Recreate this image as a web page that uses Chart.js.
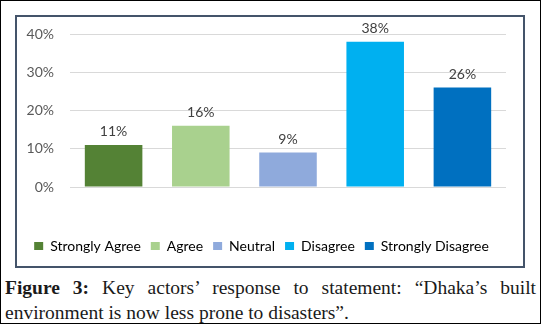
<!DOCTYPE html>
<html>
<head>
<meta charset="utf-8">
<script src="https://cdn.jsdelivr.net/npm/chart.js@4.4.1/dist/chart.umd.min.js"></script>
<style>
  html, body { margin: 0; padding: 0; background: #fff; }
  .page { position: relative; width: 541px; height: 324px; box-sizing: border-box; border: 1px solid #000; overflow: hidden; }
  .chartBox { position: absolute; left: 14px; top: 14px; width: 506px; height: 249px; border: 2px solid #44546a; background: #fff; }
  .caption { position: absolute; left: 4px; top: 274px; width: 531px; font-family: "Liberation Serif", serif; font-size: 19.5px; line-height: 25px; color: #1a1a1a; }
  .caption .l1 { text-align: justify; text-align-last: justify; }
</style>
</head>
<body>
<div class="page">
  <div class="chartBox"><canvas id="chart" width="506" height="249"></canvas></div>
  <div class="caption">
    <div class="l1"><b>Figure 3:</b> Key actors’ response to statement: “Dhaka’s built</div>
    <div>environment is now less prone to disasters”.</div>
  </div>
</div>
<script>
//-----------------------------------------------------------------------------
// data
//-----------------------------------------------------------------------------
const categories = ["Strongly Agree", "Agree", "Neutral", "Disagree", "Strongly Disagree"];
const responses  = [11, 16, 9, 38, 26];
const barColors  = ["#548235", "#a9d18e", "#8faadc", "#00b0f0", "#0070c0"];
const yTicks     = [0, 10, 20, 30, 40];

const FONT = "Lato";

// draws the % labels on top of each bar
const valueLabels = {
    id: "valueLabels",
    afterDatasetsDraw(chart){
        const ctx = chart.ctx;
        const meta = chart.getDatasetMeta(0);
        ctx.save();
        ctx.font = `14px ${FONT}`;
        ctx.fillStyle = "#404040";
        ctx.textAlign = "center";
        ctx.textBaseline = "bottom";
        meta.data.forEach((bar, i) => {
            ctx.fillText(`${responses[i]}%`, bar.x, bar.y - 6);
        });
        ctx.restore();
    }
};

const ctx = document.getElementById("chart").getContext("2d");
const chart = new Chart(ctx, {
    type: "bar",
    data: {
        labels: categories,
        datasets: [{
            data: responses,
            backgroundColor: barColors,
            borderWidth: 0,
            categoryPercentage: 1,
            barPercentage: 0.66
        }]
    },
    options: {
        responsive: false,
        animation: false,
        layout: { padding: { top: 17, right: 17, bottom: 3, left: 0 } },
        plugins: {
            tooltip: { enabled: false },
            legend: {
                position: "bottom",
                labels: {
                    boxWidth: 9,
                    boxHeight: 8,
                    padding: 10,
                    color: "#595959",
                    font: { family: FONT, size: 14 },
                    generateLabels: () => categories.map((c, i) => ({
                        text: c,
                        fillStyle: barColors[i],
                        strokeStyle: barColors[i],
                        lineWidth: 0,
                        index: i
                    }))
                }
            }
        },
        scales: {
            x: {
                ticks: { display: false },
                grid: { display: false },
                border: { display: false },
                afterFit: scale => { scale.height = 42; }
            },
            y: {
                min: 0,
                max: 40,
                afterBuildTicks: scale => { scale.ticks = yTicks.map(v => ({ value: v })); },
                ticks: {
                    callback: v => `${v}%`,
                    color: "#595959",
                    padding: 16,
                    font: { family: FONT, size: 14 }
                },
                grid: { color: "#d9d9d9", drawTicks: false },
                border: { display: false },
                afterFit: scale => {
                    // tick padding is for the x offset only, not extra room above the axis
                    scale.width = 53;
                    scale.paddingTop = 0;
                    scale.paddingBottom = 0;
                }
            }
        }
    },
    plugins: [valueLabels]
});
</script>
</body>
</html>
